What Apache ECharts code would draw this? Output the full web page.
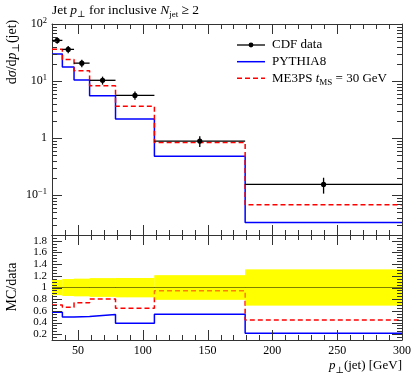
<!DOCTYPE html>
<html><head><meta charset="utf-8">
<script src="https://cdn.jsdelivr.net/npm/echarts@6/dist/echarts.min.js"></script>
<style>html,body{margin:0;padding:0;background:#fff}#c{width:415px;height:375px}</style>
</head><body><div id="c"></div>
<script>
// ---- data ----
const binEdges   = [30, 38, 47, 59, 79, 109, 179, 300];
const cdfData    = [51.6, 35.9, 20.6, 10.3, 5.6, 0.886, 0.154];
const cdfRelErr  = [0.13, 0.145, 0.15, 0.16, 0.165, 0.21, 0.31];
const pythia8    = [29.8, 17.7, 10.4, 5.55, 2.16, 0.48, 0.0332];
const me3ps      = [36.2, 23.8, 15.2, 8.25, 3.6, 0.835, 0.068];
// ---- tick labels ----
const xTickLabels     = [50, 100, 150, 200, 250, 300];
const logTickLabels   = [0.1, 1, 10, 100];
const ratioTickLabels = [0.2, 0.4, 0.6, 0.8, 1, 1.2, 1.4, 1.6, 1.8];

const SERIF = '"Liberation Serif","DejaVu Serif",serif';
const FRAME = '#333';

function stepData(vals) {
  const d = binEdges.slice(0, -1).map((e, i) => [e, vals[i]]);
  d.push([binEdges[binEdges.length - 1], vals[vals.length - 1]]);
  return d;
}
const pythiaRatio = pythia8.map((v, i) => v / cdfData[i]);
const me3psRatio  = me3ps.map((v, i) => v / cdfData[i]);

// tick positions (axis decoration)
const xMinor = [];
for (let v = 40; v < 300; v += 10) if (v % 50 !== 0) xMinor.push(v);
const logMinor = [];
for (let k = -2; k <= 1; k++) for (let m = 2; m <= 9; m++) { const v = m * Math.pow(10, k); if (v > 0.0201 && v < 100) logMinor.push(v); }
const ratioMinor = [];
for (let i = 3; i <= 37; i++) { const v = i * 0.05; if (i % 4 !== 0) ratioMinor.push(+v.toFixed(2)); }

function tickSeries(xi, yi, yMajors, yMinors, dummy) {
  return {
    type: 'custom', xAxisIndex: xi, yAxisIndex: yi, data: [dummy], silent: true, z: 10, clip: false,
    renderItem(params, api) {
      const cs = params.coordSys;
      const L = cs.x, R = cs.x + cs.width, T = cs.y, B = cs.y + cs.height;
      const ch = [];
      const add = (x1, y1, x2, y2) => ch.push({ type: 'line', shape: { x1, y1, x2, y2 }, style: { stroke: FRAME, lineWidth: 1 } });
      xTickLabels.forEach(v => { const x = Math.round(api.coord([v, dummy[1]])[0]) + 0.5; add(x, B, x, B - 10); add(x, T, x, T + 10); });
      xMinor.forEach(v => { const x = Math.round(api.coord([v, dummy[1]])[0]) + 0.5; add(x, B, x, B - 5); add(x, T, x, T + 5); });
      yMajors.forEach(v => { const y = Math.round(api.coord([dummy[0], v])[1]) + 0.5; add(L, y, L + 10, y); add(R, y, R - 10, y); });
      yMinors.forEach(v => { const y = Math.round(api.coord([dummy[0], v])[1]) + 0.5; add(L, y, L + 5, y); add(R, y, R - 5, y); });
      return { type: 'group', children: ch };
    }
  };
}

function bandSeries(opacity, z) {
  return {
    type: 'custom', xAxisIndex: 2, yAxisIndex: 2, z, silent: true,
    data: cdfRelErr.map((e, i) => [binEdges[i], binEdges[i + 1], 1 - e, 1 + e]),
    encode: { x: [0, 1], y: [2, 3] },
    renderItem(params, api) {
      const p1 = api.coord([api.value(0), api.value(3)]);
      const p2 = api.coord([api.value(1), api.value(2)]);
      return { type: 'rect', shape: { x: p1[0], y: p1[1], width: p2[0] - p1[0], height: p2[1] - p1[1] },
               style: { fill: '#ffff00', opacity } };
    }
  };
}

const frameAxis = (extra) => Object.assign({
  axisLine: { show: true, onZero: false, lineStyle: { color: FRAME, width: 1 } },
  axisTick: { show: false }, splitLine: { show: false }, axisLabel: { show: false }
}, extra);

const rich = (fs) => ({
  r: { fontFamily: SERIF, fontSize: fs, lineHeight: fs + 5, fill: '#000', verticalAlign: 'middle' },
  i: { fontFamily: SERIF, fontSize: fs, fontStyle: 'italic', lineHeight: fs + 5, fill: '#000', verticalAlign: 'middle' },
  s: { fontFamily: SERIF, fontSize: Math.round(fs * 0.7), lineHeight: Math.round(fs * 0.7) + 1, fill: '#000', verticalAlign: 'bottom' }
});

const chart = echarts.init(document.getElementById('c'), null, { renderer: 'canvas' });
const legendY = [45, 61.7, 78.3];
chart.setOption({
  animation: false,
  backgroundColor: '#fff',
  grid: [
    { left: 52, top: 24, width: 350, height: 211 },
    { left: 52, top: 235, width: 350, height: 105 }
  ],
  xAxis: [
    frameAxis({ type: 'value', gridIndex: 0, min: 30, max: 300, position: 'bottom' }),
    frameAxis({ type: 'value', gridIndex: 0, min: 30, max: 300, position: 'top' }),
    frameAxis({ type: 'value', gridIndex: 1, min: 30, max: 300, position: 'bottom',
      axisLabel: { show: true, margin: 5, fontFamily: SERIF, fontSize: 12, color: '#000',
        formatter: v => xTickLabels.indexOf(Math.round(v)) >= 0 && Math.abs(v - Math.round(v)) < 1e-6 ? String(Math.round(v)) : '' } }),
    frameAxis({ type: 'value', gridIndex: 1, min: 30, max: 300, position: 'top' })
  ],
  yAxis: [
    frameAxis({ type: 'log', gridIndex: 0, min: 0.02, max: 100, position: 'left',
      axisLabel: { show: true, margin: 5, fontFamily: SERIF, fontSize: 12, color: '#000', lineHeight: 16,
        rich: { sup: { fontFamily: SERIF, fontSize: 8.5, lineHeight: 9, verticalAlign: 'top', color: '#000' } },
        formatter: v => {
          const lg = Math.log10(v), k = Math.round(lg);
          if (Math.abs(lg - k) > 1e-6) return '';
          if (!logTickLabels.some(t => Math.round(Math.log10(t)) === k)) return '';
          if (k === 0) return '1';
          return '10{sup|' + (k < 0 ? '\u2212' + (-k) : k) + '}';
        } } }),
    frameAxis({ type: 'log', gridIndex: 0, min: 0.02, max: 100, position: 'right' }),
    frameAxis({ type: 'value', gridIndex: 1, min: 0.1, max: 1.9, splitNumber: 8, position: 'left',
      axisLabel: { show: true, margin: 5, fontFamily: SERIF, fontSize: 11, color: '#000',
        formatter: v => { const t = ratioTickLabels.find(r => Math.abs(r - v) < 1e-6); return t === undefined ? '' : String(t); } } }),
    frameAxis({ type: 'value', gridIndex: 1, min: 0.1, max: 1.9, position: 'right' })
  ],
  series: [
    { name: 'PYTHIA8', type: 'line', xAxisIndex: 0, yAxisIndex: 0, step: 'end', data: stepData(pythia8),
      symbol: 'none', lineStyle: { color: '#0000ff', width: 1.5 }, z: 2 },
    { name: 'ME3PS', type: 'line', xAxisIndex: 0, yAxisIndex: 0, step: 'end', data: stepData(me3ps),
      symbol: 'none', lineStyle: { color: '#ff0000', width: 1.5, type: [5, 3] }, z: 2 },
    { name: 'CDF data', type: 'custom', xAxisIndex: 0, yAxisIndex: 0, z: 4,
      data: cdfData.map((v, i) => [(binEdges[i] + binEdges[i + 1]) / 2, v, binEdges[i], binEdges[i + 1], v * (1 - cdfRelErr[i]), v * (1 + cdfRelErr[i])]),
      encode: { x: 0, y: 1 },
      renderItem(params, api) {
        const c = api.coord([api.value(0), api.value(1)]);
        const l = api.coord([api.value(2), api.value(1)]);
        const r = api.coord([api.value(3), api.value(1)]);
        const lo = api.coord([api.value(0), api.value(4)]);
        const hi = api.coord([api.value(0), api.value(5)]);
        return { type: 'group', children: [
          { type: 'line', shape: { x1: l[0], y1: c[1], x2: r[0], y2: c[1] }, style: { stroke: '#000', lineWidth: 1.3 } },
          { type: 'line', shape: { x1: c[0], y1: lo[1], x2: c[0], y2: hi[1] }, style: { stroke: '#000', lineWidth: 1.3 } },
          { type: 'circle', shape: { cx: c[0], cy: c[1], r: 2.6 }, style: { fill: '#000' } }
        ] };
      } },
    tickSeries(0, 0, logTickLabels, logMinor, [100, 1]),

    bandSeries(1, 1),
    { name: 'one', type: 'line', xAxisIndex: 2, yAxisIndex: 2, data: [[30, 1], [300, 1]], symbol: 'none',
      lineStyle: { color: '#000', width: 1 }, z: 2 },
    { name: 'PYTHIA8 ratio', type: 'line', xAxisIndex: 2, yAxisIndex: 2, step: 'end', data: stepData(pythiaRatio),
      symbol: 'none', lineStyle: { color: '#0000ff', width: 1.5 }, z: 2 },
    { name: 'ME3PS ratio', type: 'line', xAxisIndex: 2, yAxisIndex: 2, step: 'end', data: stepData(me3psRatio),
      symbol: 'none', lineStyle: { color: '#ff0000', width: 1.5, type: [5, 3] }, z: 2 },
    bandSeries(0.5, 3),
    tickSeries(2, 2, ratioTickLabels, ratioMinor, [100, 1])
  ],
  graphic: [
    { type: 'text', x: 52, y: 10, style: { text: '{r|Jet }{i|p}{s|\u22a5}{r| for inclusive }{i|N}{s|jet}{r| \u2265 2}', rich: rich(13.5), align: 'left', verticalAlign: 'middle' } },
    { type: 'text', x: 12, y: 52, rotation: Math.PI / 2, style: { text: '{r|d}{i|\u03c3}{r|/d}{i|p}{s|\u22a5}{r|(jet)}', rich: rich(14), align: 'center', verticalAlign: 'middle' } },
    { type: 'text', x: 12, y: 287, rotation: Math.PI / 2, style: { text: '{r|MC/data}', rich: rich(14), align: 'center', verticalAlign: 'middle' } },
    { type: 'text', x: 402, y: 366, style: { text: '{i|p}{s|\u22a5}{r|(jet) [GeV]}', rich: rich(13), align: 'right', verticalAlign: 'middle' } },
    // legend
    { type: 'line', shape: { x1: 237, y1: legendY[0], x2: 265, y2: legendY[0] }, style: { stroke: '#000', lineWidth: 1.3 } },
    { type: 'circle', shape: { cx: 251, cy: legendY[0], r: 2.4 }, style: { fill: '#000' } },
    { type: 'text', x: 272, y: legendY[0], style: { text: '{r|CDF data}', rich: rich(13), align: 'left', verticalAlign: 'middle' } },
    { type: 'line', shape: { x1: 237, y1: legendY[1], x2: 265, y2: legendY[1] }, style: { stroke: '#0000ff', lineWidth: 1.5 } },
    { type: 'text', x: 272, y: legendY[1], style: { text: '{r|PYTHIA8}', rich: rich(13), align: 'left', verticalAlign: 'middle' } },
    { type: 'line', shape: { x1: 237, y1: legendY[2], x2: 265, y2: legendY[2] }, style: { stroke: '#ff0000', lineWidth: 1.5, lineDash: [5, 3] } },
    { type: 'text', x: 272, y: legendY[2], style: { text: '{r|ME3PS }{i|t}{s|MS}{r| = 30 GeV}', rich: rich(13), align: 'left', verticalAlign: 'middle' } }
  ]
});
</script></body></html>
